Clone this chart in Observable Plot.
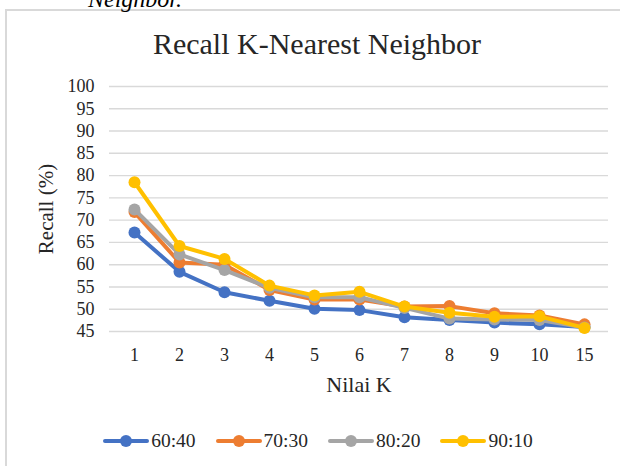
<!DOCTYPE html>
<html>
<head>
<meta charset="utf-8">
<script src="https://cdn.jsdelivr.net/npm/d3@7"></script>
<script src="https://cdn.jsdelivr.net/npm/@observablehq/plot@0.6"></script>
<style>
  html, body { margin: 0; padding: 0; background: #fff; width: 620px; height: 466px; overflow: hidden; }
  body { position: relative; font-family: "Liberation Serif", "Times New Roman", serif; }
  #frame { position: absolute; left: 5px; top: 9px; width: 700px; height: 600px; border: 2px solid #d9d9d9; box-sizing: border-box; }
  #above { position: absolute; left: 88px; top: -13px; font-size: 24px; line-height: 24px; font-style: italic; color: #000; white-space: nowrap; }
  #title { position: absolute; left: 0; top: 29px; width: 634px; text-align: center; font-size: 30px; line-height: 30px; color: #262626; white-space: nowrap; }
  #chart { position: absolute; left: 0; top: 70px; }
  #legend { position: absolute; left: 0; top: 429px; width: 636px; display: flex; justify-content: center; gap: 20px; font-size: 19.5px; color: #262626; }
  .item { display: flex; align-items: center; height: 24px; }
  .item svg { display: block; margin-right: 2px; }
</style>
</head>
<body>
<div id="frame"></div>
<div id="above">Neighbor.</div>
<div id="title">Recall K-Nearest Neighbor</div>
<div id="chart"></div>
<div id="legend"></div>
<script>
const kLabels = ["1", "2", "3", "4", "5", "6", "7", "8", "9", "10", "15"];
const seriesNames = ["60:40", "70:30", "80:20", "90:10"];
const seriesColors = ["#4472C4", "#ED7D31", "#A5A5A5", "#FFC000"];
const s6040 = [67.2, 58.4, 53.8, 51.9, 50.1, 49.8, 48.2, 47.6, 47.0, 46.6, 46.0];
const s7030 = [71.8, 60.5, 60.0, 54.3, 52.2, 52.2, 50.6, 50.7, 49.1, 48.6, 46.6];
const s8020 = [72.4, 62.3, 58.8, 54.8, 52.7, 52.7, 50.3, 47.9, 47.7, 47.6, 45.9];
const s9010 = [78.5, 64.2, 61.3, 55.3, 53.1, 53.9, 50.6, 49.2, 48.3, 48.4, 45.8];
const yTicks = [45, 50, 55, 60, 65, 70, 75, 80, 85, 90, 95, 100];

const seriesValues = [s6040, s7030, s8020, s9010];
const data = seriesNames.flatMap((name, i) =>
  kLabels.map((k, j) => ({ k, v: seriesValues[i][j], series: name }))
);

const seriesMarks = seriesNames.flatMap(name => {
  const d = data.filter(r => r.series === name);
  return [
    Plot.line(d, { x: "k", y: "v", stroke: "series", strokeWidth: 4, strokeLinejoin: "round", strokeLinecap: "round" }),
    Plot.dot(d, { x: "k", y: "v", fill: "series", r: 6, stroke: "none" })
  ];
});

const chart = Plot.plot({
  width: 620,
  height: 340,
  marginTop: 16,
  marginBottom: 79,
  marginLeft: 109,
  marginRight: 12,
  style: { fontFamily: "Liberation Serif", fontSize: "18px", color: "#595959", background: "transparent" },
  x: { type: "point", domain: kLabels, padding: 0.5 },
  y: { domain: [45, 100] },
  color: { domain: seriesNames, range: seriesColors },
  marks: [
    Plot.ruleY(yTicks, { stroke: "#d9d9d9", strokeWidth: 1.4 }),
    Plot.axisY({ ticks: yTicks, tickSize: 0, tickPadding: 15, tickFormat: () => "",
      label: "Recall (%)", labelAnchor: "center", labelArrow: false, labelOffset: 71, fontSize: 21, fill: "#262626" }),
    Plot.axisY({ ticks: yTicks, tickSize: 0, tickPadding: 15, tickFormat: d => String(d), label: null, fontSize: 18, fill: "#262626" }),
    Plot.axisX({ tickSize: 0, tickPadding: 17, label: null, fontSize: 18, fill: "#262626" }),
    Plot.axisX({ tickSize: 0, tickPadding: 17, tickFormat: () => "", label: "Nilai K", labelAnchor: "center", labelArrow: false, labelOffset: 60, fontSize: 22, fill: "#262626" }),
    ...seriesMarks
  ]
});
document.getElementById("chart").appendChild(chart);

const legend = document.getElementById("legend");
seriesNames.forEach((name, i) => {
  const item = document.createElement("div");
  item.className = "item";
  item.innerHTML = `<svg width="46" height="14"><line x1="2" y1="7" x2="44" y2="7" stroke="${seriesColors[i]}" stroke-width="4" stroke-linecap="round"/><circle cx="23" cy="7" r="6" fill="${seriesColors[i]}"/></svg><span>${name}</span>`;
  legend.appendChild(item);
});
</script>
</body>
</html>
